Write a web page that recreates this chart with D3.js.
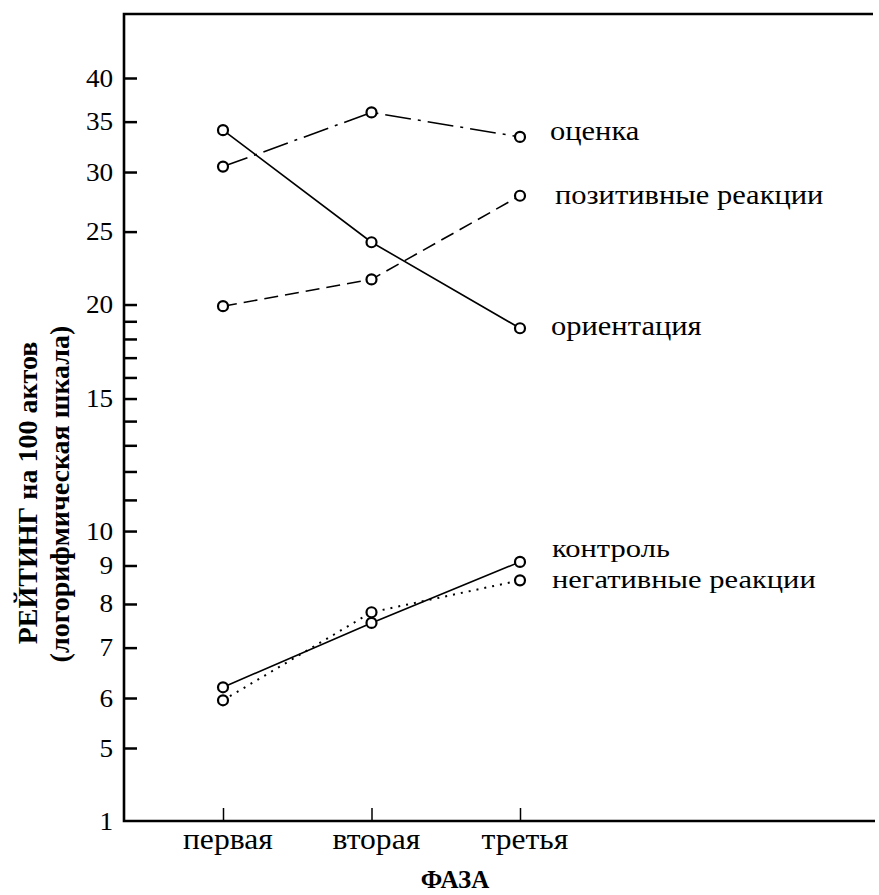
<!DOCTYPE html>
<html>
<head>
<meta charset="utf-8">
<script src="https://cdn.jsdelivr.net/npm/d3@7"></script>
<style>
  body { margin: 0; background: #fff; }
  text { font-family: "Liberation Serif", "Times New Roman", "DejaVu Serif", serif; fill: #000; }
</style>
</head>
<body>
<script>
// phases on the x axis
var phases = ['первая', 'вторая', 'третья'];

// rating per 100 acts, one array per category
var ocenka      = [30.5, 36.0, 33.4];
var orientacia  = [34.1, 24.2, 18.6];
var pozitivnye  = [19.9, 21.6, 27.9];
var kontrol     = [6.2, 7.55, 9.1];
var negativnye  = [5.95, 7.8, 8.6];

var seriesNames = ['оценка', 'позитивные реакции', 'ориентация', 'контроль', 'негативные реакции'];

// y ticks (log scale with a break below 5)
var yTicks = [1, 5, 6, 7, 8, 9, 10, 11, 12, 13, 14, 15, 16, 17, 18, 19, 20, 25, 30, 35, 40];
var yLabeled = [1, 5, 6, 7, 8, 9, 10, 15, 20, 25, 30, 35, 40];

var series = [
    {name: seriesNames[0], values: ocenka,     dash: '26,7,3,7', labelDx: 30, labelDy: -4, size: 28},
    {name: seriesNames[1], values: pozitivnye, dash: '14,7',     labelDx: 35, labelDy: 1,  size: 28},
    {name: seriesNames[2], values: orientacia, dash: null,       labelDx: 31, labelDy: 0,  size: 28},
    {name: seriesNames[3], values: kontrol,    dash: null,       labelDx: 32, labelDy: -11, size: 26},
    {name: seriesNames[4], values: negativnye, dash: '2,6',      labelDx: 32, labelDy: 1,  size: 26}
];

// the printed type is a bit wider than Times
var stretch = 1.09;

window.document.addEventListener('DOMContentLoaded', init, false);

function init() {
    var width = 879, height = 895;
    var left = 124, top = 14, right = 873, bottom = 821;

    var svg = d3.select('body').append('svg')
        .attr('width', width)
        .attr('height', height);

    var x = d3.scalePoint()
        .domain(phases)
        .range([223, 520]);

    var y = d3.scaleLog()
        .domain([1, 5, 6, 40])
        .range([bottom, 748, 698, 78]);

    // frame: left, top and bottom lines
    svg.append('path')
        .attr('fill', 'none')
        .attr('stroke', '#000')
        .attr('stroke-width', 2.6)
        .attr('d', `M${right},${top}H${left}V${bottom}H${right + 2}`);

    var yAxis = svg.append('g')
        .attr('transform', `translate(${left},0)`)
        .call(d3.axisLeft(y)
            .tickValues(yTicks)
            .tickSize(-13)
            .tickPadding(10)
            .tickFormat((d) => yLabeled.indexOf(d) >= 0 ? d : ''));
    yAxis.select('.domain').remove();
    yAxis.selectAll('.tick line').attr('stroke-width', 2.5);
    yAxis.selectAll('.tick text')
        .attr('font-family', null)
        .attr('font-size', 25)
        .attr('transform', `scale(${stretch},1)`);
    yAxis.selectAll('.tick').filter((d) => d === 1).select('line').remove();

    var xAxis = svg.append('g')
        .attr('transform', `translate(0,${bottom})`)
        .call(d3.axisBottom(x).tickSize(-13).tickPadding(7));
    xAxis.select('.domain').remove();
    xAxis.selectAll('.tick line').attr('stroke-width', 1.5);
    xAxis.selectAll('.tick text')
        .attr('font-family', null)
        .attr('font-size', 29)
        .attr('dx', 4)
        .attr('transform', `scale(${stretch},1)`);

    var line = d3.line()
        .x((d, i) => x(phases[i]))
        .y((d) => y(d));

    series.forEach(function(s) {
        svg.append('path')
            .attr('fill', 'none')
            .attr('stroke', '#000')
            .attr('stroke-width', s.dash === '2,6' ? 2 : 1.6)
            .attr('stroke-dasharray', s.dash)
            .attr('d', line(s.values));
    });

    series.forEach(function(s) {
        svg.selectAll(null)
            .data(s.values)
            .enter()
                .append('circle')
                .attr('cx', (d, i) => x(phases[i]))
                .attr('cy', (d) => y(d))
                .attr('r', 5)
                .attr('fill', '#fff')
                .attr('stroke', '#000')
                .attr('stroke-width', 2.2);

        var last = s.values[s.values.length - 1];
        var sx = stretch * 28 / s.size;
        svg.append('g')
            .attr('transform', `translate(${x(phases[phases.length - 1]) + s.labelDx},${y(last) + s.labelDy}) scale(${sx},1)`)
            .append('text')
                .attr('dy', '0.25em')
                .attr('font-size', s.size)
                .text(s.name);
    });

    // axis titles
    svg.append('text')
        .attr('transform', 'translate(37,493) rotate(-90)')
        .attr('text-anchor', 'middle')
        .attr('font-weight', 'bold')
        .attr('font-size', 28)
        .text('РЕЙТИНГ на 100 актов');

    svg.append('text')
        .attr('transform', 'translate(69,494) rotate(-90)')
        .attr('text-anchor', 'middle')
        .attr('font-weight', 'bold')
        .attr('font-size', 28)
        .text('(логорифмическая шкала)');

    svg.append('text')
        .attr('x', 455)
        .attr('y', 888)
        .attr('text-anchor', 'middle')
        .attr('font-weight', 'bold')
        .attr('font-size', 25)
        .text('ФАЗА');
}
</script>
</body>
</html>
